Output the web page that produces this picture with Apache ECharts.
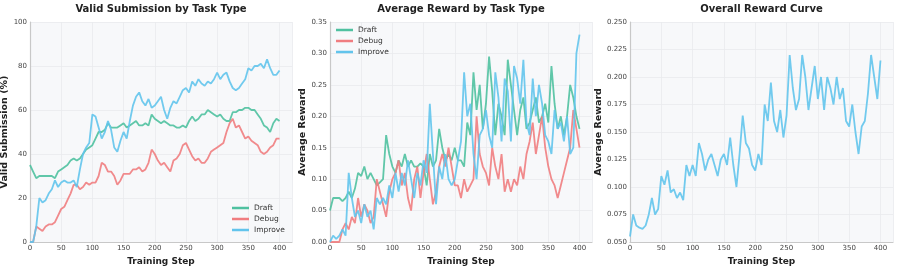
<!DOCTYPE html>
<html><head><meta charset="utf-8">
<script src="https://cdn.jsdelivr.net/npm/echarts@6/dist/echarts.min.js"></script>
<style>html,body{margin:0;padding:0;background:#fff}#c{width:897px;height:266px}</style>
</head><body><div id="c"></div>
<script>
const steps = [0,5,10,15,20,25,30,35,40,45,50,55,60,65,70,75,80,85,90,95,100,105,110,115,120,125,130,135,140,145,150,155,160,165,170,175,180,185,190,195,200,205,210,215,220,225,230,235,240,245,250,255,260,265,270,275,280,285,290,295,300,305,310,315,320,325,330,335,340,345,350,355,360,365,370,375,380,385,390,395,400];
const xTicks = [0,50,100,150,200,250,300,350,400];
const seriesNames = ['Draft','Debug','Improve'];
const titles = ['Valid Submission by Task Type','Average Reward by Task Type','Overall Reward Curve'];
const yNames = ['Valid Submission (%)','Average Reward','Average Reward'];

const validDraft = [35,32,29,30,30,30,30,30,29,32,33,34,35,37,38,37,38,40,42,43,44,47,50,50,51,54,52,52,52,53,54,52,53,54,55,53,53,54,53,58,56,55,54,55,54,53,53,52,52,53,52,55,57,55,56,58,58,60,59,58,57,58,56,55,55,59,59,60,60,61,61,60,60,58,56,53,52,50,54,56,55];
const validDebug = [0,0,7,6,5,7,8,8,9,12,15,16,19,22,26,26,24,25,27,26,27,27,30,36,35,32,32,30,26,28,31,31,31,33,33,34,32,33,36,42,40,37,35,36,34,32,37,38,40,44,45,42,39,37,38,36,36,38,41,42,43,44,45,50,54,56,52,53,50,47,48,46,45,44,41,40,41,43,44,47,47];
const validImprove = [0,0,7,20,18,19,22,24,28,25,27,28,27,27,28,25,33,40,43,45,58,57,52,47,50,55,51,43,41,46,50,47,55,62,66,68,64,62,65,61,62,64,66,60,56,61,64,63,66,69,70,68,73,71,74,72,71,73,72,74,77,74,76,77,73,70,69,70,72,74,79,78,80,80,81,79,83,79,76,76,78];

const rewardDraft = [0.05,0.07,0.07,0.07,0.065,0.07,0.08,0.07,0.085,0.11,0.105,0.12,0.10,0.11,0.10,0.09,0.095,0.10,0.17,0.14,0.12,0.11,0.13,0.12,0.14,0.12,0.13,0.12,0.12,0.125,0.12,0.09,0.14,0.12,0.13,0.18,0.15,0.13,0.14,0.13,0.15,0.13,0.13,0.12,0.19,0.17,0.27,0.21,0.25,0.18,0.22,0.295,0.24,0.17,0.22,0.20,0.17,0.29,0.25,0.21,0.17,0.21,0.23,0.18,0.19,0.21,0.23,0.19,0.20,0.22,0.19,0.28,0.22,0.18,0.20,0.17,0.20,0.25,0.23,0.20,0.18];
const rewardDebug = [0,0,0,0,0.02,0.03,0.02,0.04,0.03,0.07,0.04,0.06,0.05,0.03,0.04,0.10,0.08,0.06,0.04,0.08,0.10,0.11,0.13,0.09,0.11,0.07,0.05,0.10,0.12,0.07,0.11,0.14,0.10,0.06,0.08,0.12,0.14,0.12,0.15,0.12,0.09,0.09,0.07,0.10,0.08,0.09,0.10,0.20,0.14,0.12,0.11,0.09,0.15,0.12,0.10,0.14,0.08,0.10,0.08,0.10,0.09,0.12,0.10,0.14,0.16,0.19,0.14,0.17,0.20,0.15,0.12,0.10,0.09,0.07,0.09,0.11,0.13,0.15,0.21,0.18,0.15];
const rewardImprove = [0,0.01,0.005,0.01,0.02,0.01,0.11,0.07,0.04,0.05,0.03,0.06,0.04,0.05,0.02,0.07,0.06,0.07,0.06,0.09,0.07,0.11,0.08,0.11,0.09,0.13,0.10,0.07,0.11,0.09,0.13,0.11,0.22,0.14,0.06,0.12,0.10,0.14,0.10,0.09,0.10,0.13,0.16,0.27,0.20,0.22,0.14,0.10,0.17,0.18,0.21,0.17,0.15,0.27,0.23,0.16,0.26,0.24,0.16,0.28,0.26,0.22,0.29,0.19,0.17,0.26,0.20,0.25,0.22,0.17,0.16,0.14,0.21,0.18,0.19,0.16,0.20,0.14,0.15,0.30,0.33];
const rewardOverall = [0.055,0.075,0.065,0.063,0.062,0.065,0.075,0.09,0.075,0.08,0.11,0.102,0.115,0.095,0.098,0.09,0.095,0.088,0.12,0.11,0.12,0.11,0.14,0.13,0.115,0.125,0.13,0.12,0.11,0.125,0.13,0.12,0.145,0.12,0.10,0.13,0.165,0.14,0.135,0.12,0.115,0.13,0.12,0.175,0.16,0.195,0.16,0.15,0.17,0.145,0.165,0.22,0.19,0.17,0.18,0.22,0.20,0.17,0.19,0.21,0.18,0.20,0.17,0.20,0.19,0.175,0.20,0.18,0.19,0.16,0.155,0.175,0.15,0.13,0.155,0.16,0.185,0.22,0.20,0.18,0.215];

const colors = ['#4fc1a0','#f07d80','#62c4ec'];
const FONT = 'DejaVu Sans';
const pair = (vals) => steps.map((s,i)=>[s, vals[i]]);

const grids = [
  {left:30, width:262, top:22, height:220},
  {left:330, width:262, top:22, height:220},
  {left:630, width:263, top:22, height:220}
];
const yCfg = [
  {min:0,max:100,interval:20,fmt:v=>String(v),gap:17.5},
  {min:0,max:0.35,interval:0.05,fmt:v=>v.toFixed(2),gap:19},
  {min:0.05,max:0.25,interval:0.025,fmt:v=>v.toFixed(3),gap:21.5}
];

const option = {
  backgroundColor:'#fff',
  animation:false,
  textStyle:{fontFamily:FONT},
  title: titles.map((t,i)=>({
    text:t, left: grids[i].left + grids[i].width/2, top:4, textAlign:'center', padding:0,
    textStyle:{fontFamily:FONT,fontSize:10,fontWeight:'bold',color:'#222'}
  })),
  grid: grids.map(g=>Object.assign({show:true,backgroundColor:'#f7f8fa',borderWidth:0,containLabel:false,outerBoundsMode:'none'},g)),
  xAxis: grids.map((g,i)=>({
    type:'value', gridIndex:i, min:0, max:420, interval:50,
    name:'Training Step', nameLocation:'middle', nameGap:8,
    nameTextStyle:{fontFamily:FONT,fontSize:9,fontWeight:'bold',color:'#222'},
    axisLine:{show:true,lineStyle:{color:'#c8c8c8',width:1.2}},
    axisTick:{show:false},
    axisLabel:{fontFamily:FONT,fontSize:7,color:'#444',margin:3,
      formatter:v=> xTicks.indexOf(v)>=0 ? String(v) : ''},
    splitLine:{show:true,lineStyle:{color:'#e9eaed',width:0.8}}
  })),
  yAxis: grids.map((g,i)=>({
    type:'value', gridIndex:i, min:yCfg[i].min, max:yCfg[i].max, interval:yCfg[i].interval,
    name:yNames[i], nameLocation:'middle', nameGap: yCfg[i].gap,
    nameTextStyle:{fontFamily:FONT,fontSize:9.5,fontWeight:'bold',color:'#222'},
    axisLine:{show:true,lineStyle:{color:'#c8c8c8',width:1.2}},
    axisTick:{show:false},
    axisLabel:{fontFamily:FONT,fontSize:7,color:'#444',margin:3,formatter:yCfg[i].fmt},
    splitLine:{show:true,lineStyle:{color:'#e9eaed',width:0.8}}
  })),
  legend:[
    {data:seriesNames.map(n=>({name:n,icon:'rect'})), orient:'vertical', left:232, top:204, padding:0,
      itemWidth:17, itemHeight:2.5, itemGap:3,
      textStyle:{fontFamily:FONT,fontSize:7.5,color:'#333'}},
  ],
  series: []
};
const lineStyle = c => ({color:c,width:1.8,opacity:0.9});
const mk = (name, vals, idx, c) => ({
  name: name, type:'line', xAxisIndex:idx, yAxisIndex:idx,
  data: pair(vals), showSymbol:false, symbol:'none', color:c,
  lineStyle: lineStyle(c), z: 2
});
option.series.push(mk('Draft', validDraft, 0, colors[0]));
option.series.push(mk('Debug', validDebug, 0, colors[1]));
option.series.push(mk('Improve', validImprove, 0, colors[2]));
option.series.push(mk('Draft ', rewardDraft, 1, colors[0]));
option.series.push(mk('Debug ', rewardDebug, 1, colors[1]));
option.series.push(mk('Improve ', rewardImprove, 1, colors[2]));
option.series.push(mk('Overall', rewardOverall, 2, colors[2]));
option.legend.push({data:['Draft ','Debug ','Improve '].map(n=>({name:n,icon:'rect'})), orient:'vertical', left:336, top:26, padding:0,
  itemWidth:17, itemHeight:2.5, itemGap:3,
  formatter: n=>n.trim(),
  textStyle:{fontFamily:FONT,fontSize:7.5,color:'#333'}});

const chart = echarts.init(document.getElementById('c'), null, {renderer:'canvas'});
chart.setOption(option);
</script>
</body></html>
